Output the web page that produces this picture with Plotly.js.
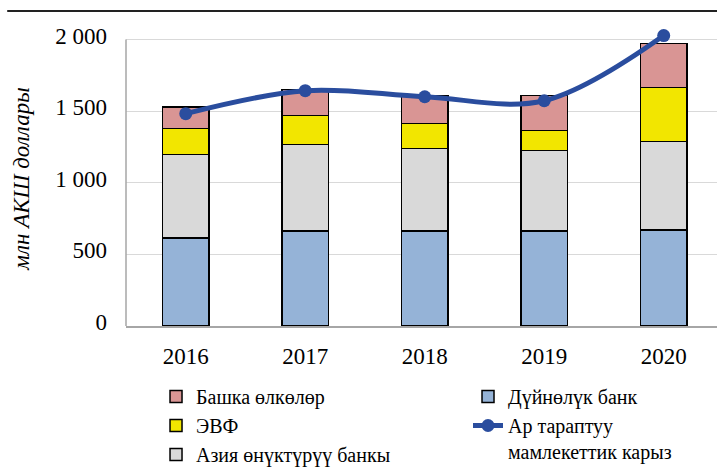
<!DOCTYPE html>
<html>
<head>
<meta charset="utf-8">
<script src="https://cdn.plot.ly/plotly-3.0.1.min.js"></script>
<style>html,body{margin:0;padding:0;background:#fff;}#chart{width:717px;height:469px;}</style>
</head>
<body>
<div id="chart"></div>
<script>
const years = ['2016', '2017', '2018', '2019', '2020'];
const worldBank = [615, 664, 664, 664, 671];
const adb = [581, 602, 574, 560, 616];
const imf = [182, 203, 175, 140, 377];
const otherCountries = [153, 181, 195, 244, 308];
const multilateralDebt = [1483, 1643, 1601, 1573, 2028];

const seriesNames = {
  other: 'Башка өлкөлөр',
  imf: 'ЭВФ',
  adb: 'Азия өнүктүрүү банкы',
  wb: 'Дүйнөлүк банк',
  line: 'Ар тараптуу<br>мамлекеттик карыз'
};

const serif = '"Liberation Serif", "Times New Roman", serif';
const barLine = {color: '#000', width: 1.5};
const bw = 0.39;

const traces = [
  {type: 'bar', x: years, y: worldBank, name: seriesNames.wb, width: bw,
   marker: {color: '#95b3d7', line: barLine}, legend: 'legend2', legendrank: 1},
  {type: 'bar', x: years, y: adb, name: seriesNames.adb, width: bw,
   marker: {color: '#d9d9d9', line: barLine}, legend: 'legend', legendrank: 3},
  {type: 'bar', x: years, y: imf, name: seriesNames.imf, width: bw,
   marker: {color: '#f2e600', line: barLine}, legend: 'legend', legendrank: 2},
  {type: 'bar', x: years, y: otherCountries, name: seriesNames.other, width: bw,
   marker: {color: '#d99594', line: barLine}, legend: 'legend', legendrank: 1},
  {type: 'scatter', mode: 'lines+markers', x: years, y: multilateralDebt, name: seriesNames.line,
   line: {color: '#2a4d9e', width: 5, shape: 'spline', smoothing: 1},
   marker: {color: '#2a4d9e', size: 13}, cliponaxis: false, legend: 'legend2', legendrank: 2}
];

// keep 2000 at y=40px while leaving room above for the line
const yTop = 2060;
const pxPerUnit = 286 / 2000;
const topMargin = Math.round(40 - (yTop - 2000) * pxPerUnit);
const plotH = 326 - topMargin;
const legendTop = (326 - 377) / plotH;

const layout = {
  width: 717, height: 469,
  margin: {l: 126, r: 0, t: topMargin, b: 143, autoexpand: false},
  paper_bgcolor: '#fff', plot_bgcolor: '#fff',
  barmode: 'stack',
  separators: ', ',
  font: {family: serif, size: 20, color: '#000'},
  xaxis: {
    type: 'category', range: [-0.5, 4.446],
    showline: true, linecolor: '#a6a6a6', linewidth: 2,
    ticks: '', showgrid: false, ticklabelstandoff: 8,
    tickfont: {family: serif, size: 23, color: '#000'}
  },
  yaxis: {
    range: [0, yTop], tickvals: [0, 500, 1000, 1500, 2000], separatethousands: true,
    showline: false,
    showgrid: true, gridcolor: '#d9d9d9', gridwidth: 1,
    zeroline: false, ticks: '', ticklabelstandoff: 18, ticklabelshift: -4,
    tickfont: {family: serif, size: 23, color: '#000'},
    title: {text: 'млн АКШ доллары', standoff: 19,
            font: {family: serif, size: 23, style: 'italic', color: '#000'}}
  },
  legend: {
    x: 0.0508, y: legendTop, xanchor: 'left', yanchor: 'top',
    orientation: 'v', traceorder: 'normal', itemwidth: 30, valign: 'top',
    font: {family: serif, size: 20, color: '#000'},
    bgcolor: 'rgba(0,0,0,0)', tracegroupgap: 0
  },
  legend2: {
    x: 0.5787, y: legendTop, xanchor: 'left', yanchor: 'top',
    orientation: 'v', traceorder: 'normal', itemwidth: 30, valign: 'top',
    font: {family: serif, size: 20, color: '#000'},
    bgcolor: 'rgba(0,0,0,0)', tracegroupgap: 0
  },
  shapes: [
    {type: 'line', xref: 'paper', yref: 'paper', x0: -0.201, x1: 1,
     y0: (326 - 11) / plotH, y1: (326 - 11) / plotH,
     line: {color: '#222', width: 2}},
    {type: 'line', xref: 'paper', yref: 'y', x0: 0, x1: 0, y0: 0, y1: 2000,
     line: {color: '#a6a6a6', width: 1.5}, layer: 'above'}
  ]
};

Plotly.newPlot('chart', traces, layout, {displayModeBar: false, staticPlot: true});
</script>
</body>
</html>
